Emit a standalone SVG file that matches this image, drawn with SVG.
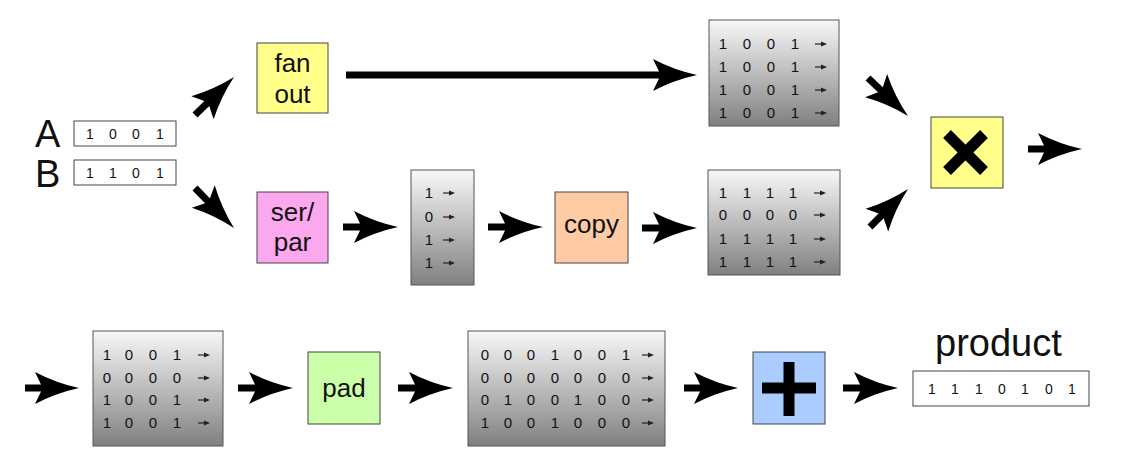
<svg xmlns="http://www.w3.org/2000/svg" xmlns:xlink="http://www.w3.org/1999/xlink" width="1129" height="467" viewBox="0 0 1129 467">
<style>
  text { font-family: "Liberation Sans", Arial, sans-serif; fill: #111; text-anchor: middle; }
  .d { font-size: 14px; }
  .m { font-size: 15px; }
  .lbl { font-size: 26px; }
  .big { font-size: 38px; text-anchor: start; }
  .box { stroke: #444; stroke-width: 1; }
  .mat { fill: url(#grad); stroke: #555; stroke-width: 1; }
  .conn { stroke: #000; stroke-width: 7; fill: none; marker-end: url(#ah); }
  .sym { stroke: #000; stroke-width: 11; stroke-linecap: butt; }
</style>
<defs>
  <linearGradient id="grad" x1="0" y1="0" x2="0" y2="1">
    <stop offset="0" stop-color="#f8f8f8"/>
    <stop offset="1" stop-color="#808080"/>
  </linearGradient>
  <marker id="ah" markerUnits="userSpaceOnUse" markerWidth="46" markerHeight="34" viewBox="0 -17 46 34" refX="10" refY="0" orient="auto" overflow="visible">
    <path d="M44,0 Q21,-5 0,-16 L6,-3.5 L6,3.5 L0,16 Q21,5 44,0 Z" fill="#000"/>
  </marker>
  <g id="sa">
    <line x1="0" y1="0" x2="8" y2="0" stroke="#222" stroke-width="1.2"/>
    <path d="M6,-2.5 L12,0 L6,2.5 Z" fill="#222"/>
  </g>
</defs>
<rect width="1129" height="467" fill="#fff"/>

<g id="connectors">
  <line class="conn" x1="195" y1="115" x2="209.65" y2="100.73"/>
  <line class="conn" x1="195" y1="188" x2="210.27" y2="203.66"/>
  <line class="conn" x1="346" y1="75" x2="663" y2="75"/>
  <line class="conn" x1="343" y1="227" x2="364" y2="227"/>
  <line class="conn" x1="488" y1="227" x2="509" y2="227"/>
  <line class="conn" x1="642" y1="228" x2="663" y2="228"/>
  <line class="conn" x1="868" y1="78" x2="883.35" y2="92.58"/>
  <line class="conn" x1="870" y1="227" x2="883.96" y2="213.04"/>
  <line class="conn" x1="1028" y1="149" x2="1048" y2="149"/>
  <line class="conn" x1="25" y1="388" x2="45" y2="388"/>
  <line class="conn" x1="238" y1="388" x2="259" y2="388"/>
  <line class="conn" x1="398" y1="388" x2="419" y2="388"/>
  <line class="conn" x1="684" y1="388" x2="704" y2="388"/>
  <line class="conn" x1="843" y1="388" x2="864" y2="388"/>
</g>

<g id="inputA">
  <text class="big" x="35" y="146.5">A</text>
  <rect x="74" y="121" width="102" height="25" fill="#fff" stroke="#444"/>
  <text class="d" x="90" y="139">1</text><text class="d" x="113" y="139">0</text><text class="d" x="136" y="139">0</text><text class="d" x="160" y="139">1</text>
</g>
<g id="inputB">
  <text class="big" x="35" y="187">B</text>
  <rect x="74" y="160" width="102" height="25" fill="#fff" stroke="#444"/>
  <text class="d" x="90" y="178">1</text><text class="d" x="113" y="178">1</text><text class="d" x="136" y="178">0</text><text class="d" x="160" y="178">1</text>
</g>

<g id="fanout">
  <rect class="box" x="257" y="43" width="71" height="70" fill="#ffff8a"/>
  <text class="lbl" x="292.5" y="72">fan</text>
  <text class="lbl" x="292.5" y="103">out</text>
</g>

<g id="serpar">
  <rect class="box" x="257" y="192" width="71" height="71" fill="#fca8ef"/>
  <text class="lbl" x="292.5" y="221">ser/</text>
  <text class="lbl" x="292.5" y="251">par</text>
</g>

<g id="matrixA">
  <rect class="mat" x="709" y="20" width="130" height="106"/>
  <text class="m" x="723" y="49">1</text><text class="m" x="747" y="49">0</text><text class="m" x="771" y="49">0</text><text class="m" x="795" y="49">1</text>
  <text class="m" x="723" y="72">1</text><text class="m" x="747" y="72">0</text><text class="m" x="771" y="72">0</text><text class="m" x="795" y="72">1</text>
  <text class="m" x="723" y="95">1</text><text class="m" x="747" y="95">0</text><text class="m" x="771" y="95">0</text><text class="m" x="795" y="95">1</text>
  <text class="m" x="723" y="118">1</text><text class="m" x="747" y="118">0</text><text class="m" x="771" y="118">0</text><text class="m" x="795" y="118">1</text>
  <use xlink:href="#sa" x="815" y="44"/><use xlink:href="#sa" x="815" y="67"/><use xlink:href="#sa" x="815" y="90"/><use xlink:href="#sa" x="815" y="113"/>
</g>

<g id="columnB">
  <rect class="mat" x="411" y="170" width="63" height="115"/>
  <text class="m" x="429" y="198">1</text>
  <text class="m" x="429" y="222">0</text>
  <text class="m" x="429" y="245">1</text>
  <text class="m" x="429" y="268">1</text>
  <use xlink:href="#sa" x="443" y="193"/><use xlink:href="#sa" x="443" y="217"/><use xlink:href="#sa" x="443" y="240"/><use xlink:href="#sa" x="443" y="263"/>
</g>

<g id="copy">
  <rect class="box" x="555" y="192" width="73" height="71" fill="#ffcba5"/>
  <text class="lbl" x="591.5" y="233">copy</text>
</g>

<g id="matrixB">
  <rect class="mat" x="708" y="170" width="132" height="105"/>
  <text class="m" x="723" y="198">1</text><text class="m" x="747" y="198">1</text><text class="m" x="770" y="198">1</text><text class="m" x="793" y="198">1</text>
  <text class="m" x="723" y="220">0</text><text class="m" x="747" y="220">0</text><text class="m" x="770" y="220">0</text><text class="m" x="793" y="220">0</text>
  <text class="m" x="723" y="244">1</text><text class="m" x="747" y="244">1</text><text class="m" x="770" y="244">1</text><text class="m" x="793" y="244">1</text>
  <text class="m" x="723" y="267">1</text><text class="m" x="747" y="267">1</text><text class="m" x="770" y="267">1</text><text class="m" x="793" y="267">1</text>
  <use xlink:href="#sa" x="814" y="193"/><use xlink:href="#sa" x="814" y="215"/><use xlink:href="#sa" x="814" y="239"/><use xlink:href="#sa" x="814" y="262"/>
</g>

<g id="multiply">
  <rect class="box" x="931" y="117" width="72" height="71" fill="#ffff8a"/>
  <line class="sym" x1="947" y1="134" x2="984" y2="171"/>
  <line class="sym" x1="984" y1="134" x2="947" y2="171"/>
</g>

<g id="matrixC">
  <rect class="mat" x="93" y="331" width="130" height="115"/>
  <text class="m" x="107" y="360">1</text><text class="m" x="129" y="360">0</text><text class="m" x="153" y="360">0</text><text class="m" x="177" y="360">1</text>
  <text class="m" x="107" y="383">0</text><text class="m" x="129" y="383">0</text><text class="m" x="153" y="383">0</text><text class="m" x="177" y="383">0</text>
  <text class="m" x="107" y="405">1</text><text class="m" x="129" y="405">0</text><text class="m" x="153" y="405">0</text><text class="m" x="177" y="405">1</text>
  <text class="m" x="107" y="428">1</text><text class="m" x="129" y="428">0</text><text class="m" x="153" y="428">0</text><text class="m" x="177" y="428">1</text>
  <use xlink:href="#sa" x="198" y="355"/><use xlink:href="#sa" x="198" y="378"/><use xlink:href="#sa" x="198" y="400"/><use xlink:href="#sa" x="198" y="423"/>
</g>

<g id="pad">
  <rect class="box" x="308" y="352" width="72" height="72" fill="#ccffaa"/>
  <text class="lbl" x="344" y="397">pad</text>
</g>

<g id="matrixD">
  <rect class="mat" x="468" y="331" width="197" height="115"/>
  <text class="m" x="485" y="360">0</text><text class="m" x="508" y="360">0</text><text class="m" x="531" y="360">0</text><text class="m" x="555" y="360">1</text><text class="m" x="578" y="360">0</text><text class="m" x="602" y="360">0</text><text class="m" x="626" y="360">1</text>
  <text class="m" x="485" y="383">0</text><text class="m" x="508" y="383">0</text><text class="m" x="531" y="383">0</text><text class="m" x="555" y="383">0</text><text class="m" x="578" y="383">0</text><text class="m" x="602" y="383">0</text><text class="m" x="626" y="383">0</text>
  <text class="m" x="485" y="405">0</text><text class="m" x="508" y="405">1</text><text class="m" x="531" y="405">0</text><text class="m" x="555" y="405">0</text><text class="m" x="578" y="405">1</text><text class="m" x="602" y="405">0</text><text class="m" x="626" y="405">0</text>
  <text class="m" x="485" y="428">1</text><text class="m" x="508" y="428">0</text><text class="m" x="531" y="428">0</text><text class="m" x="555" y="428">1</text><text class="m" x="578" y="428">0</text><text class="m" x="602" y="428">0</text><text class="m" x="626" y="428">0</text>
  <use xlink:href="#sa" x="642" y="355"/><use xlink:href="#sa" x="642" y="378"/><use xlink:href="#sa" x="642" y="400"/><use xlink:href="#sa" x="642" y="423"/>
</g>

<g id="add">
  <rect class="box" x="753" y="352" width="72" height="72" fill="#aaccff"/>
  <rect x="783.5" y="362" width="11" height="54" fill="#000"/>
  <rect x="762" y="382.5" width="54" height="11" fill="#000"/>
</g>

<g id="product">
  <text class="big" x="935" y="356">product</text>
  <rect x="913" y="371" width="176" height="35" fill="#fff" stroke="#444"/>
  <text class="d" x="932" y="394">1</text><text class="d" x="955" y="394">1</text><text class="d" x="979" y="394">1</text><text class="d" x="1002" y="394">0</text><text class="d" x="1025" y="394">1</text><text class="d" x="1049" y="394">0</text><text class="d" x="1072" y="394">1</text>
</g>
</svg>
